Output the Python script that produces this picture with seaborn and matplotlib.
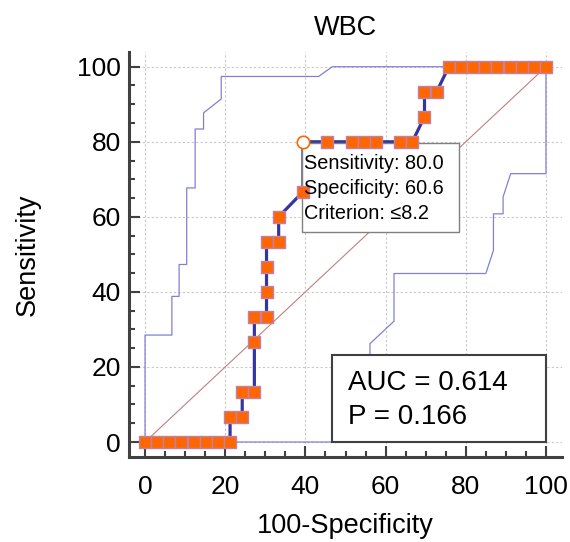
import matplotlib
matplotlib.use("Agg")
import matplotlib.pyplot as plt
import seaborn as sns
import pandas as pd
from matplotlib.patches import Rectangle
from matplotlib.ticker import MultipleLocator

# ROC curve points (100-Specificity, Sensitivity)
fpr = [0, 3.03, 6.06, 9.09, 12.12, 15.15, 18.18, 21.21,
       21.21, 24.24, 24.24, 27.27, 27.27, 27.27, 30.30, 30.30,
       30.30, 30.30, 33.33, 33.33, 39.39, 39.39, 45.45, 51.52,
       54.55, 57.58, 63.64, 66.67, 69.70, 69.70, 72.73, 75.76,
       78.79, 81.82, 84.85, 87.88, 90.91, 93.94, 96.97, 100]
tpr = [0, 0, 0, 0, 0, 0, 0, 0,
       6.67, 6.67, 13.33, 13.33, 26.67, 33.33, 33.33, 40.0,
       46.67, 53.33, 53.33, 60.0, 66.67, 80.0, 80.0, 80.0,
       80.0, 80.0, 80.0, 80.0, 86.67, 93.33, 93.33, 100,
       100, 100, 100, 100, 100, 100, 100, 100]

# confidence bounds
upper_x = [0, 0, 6.7, 6.7, 8.5, 8.5, 10.4, 10.4, 12.5, 12.5, 14.6, 14.6,
           19.0, 19.0, 43.3, 46.7, 100]
upper_y = [0, 28.5, 28.5, 38.8, 38.8, 47.3, 47.3, 67.7, 67.7, 83.4, 83.4,
           87.7, 91.4, 97.4, 97.4, 100, 100]
lower_x = [0, 56.1, 56.1, 62.1, 62.1, 85.0, 86.9, 86.9, 89.3, 89.3, 91.2,
           100, 100]
lower_y = [0, 0, 26.2, 32.2, 44.9, 44.9, 51.1, 60.8, 60.8, 65.3, 71.5,
           71.5, 100]

# optimal criterion
crit_x = 39.39
crit_y = 80.0
crit_text = ["Sensitivity: 80.0", "Specificity: 60.6", "Criterion: \u22648.2"]
auc_text = ["AUC = 0.614", "P = 0.166"]

roc = pd.DataFrame({"fpr": fpr, "tpr": tpr})

sns.set_style("white")
plt.rcParams["font.family"] = ["Liberation Sans", "DejaVu Sans"]
plt.rcParams["text.color"] = "black"
plt.rcParams["axes.labelcolor"] = "black"
plt.rcParams["xtick.labelcolor"] = "black"
plt.rcParams["ytick.labelcolor"] = "black"

fig = plt.figure(figsize=(5.70, 5.42), dpi=100)
ax = fig.add_axes([0.2263, 0.1568, 0.7597, 0.7478])

ax.plot([0, 100], [0, 100], color="#c08080", lw=0.8, zorder=2)
sns.lineplot(x=upper_x, y=upper_y, estimator=None, sort=False,
             color="#8080d4", lw=0.9, ax=ax, zorder=2)
sns.lineplot(x=lower_x, y=lower_y, estimator=None, sort=False,
             color="#8080d4", lw=0.9, ax=ax, zorder=2)
sns.lineplot(data=roc, x="fpr", y="tpr", estimator=None, sort=False,
             color="#3535a0", lw=2.3, ax=ax, zorder=3)

is_crit = (roc["fpr"] == crit_x) & (roc["tpr"] == crit_y)
sns.scatterplot(data=roc[~is_crit], x="fpr", y="tpr", marker="s", s=85,
                color="#ff6600", edgecolor="#c080a8", linewidth=1.0,
                ax=ax, zorder=5)
sns.scatterplot(x=[crit_x], y=[crit_y], marker="o", s=80, color="white",
                edgecolor="#ff6600", linewidth=1.2, ax=ax, zorder=7)

# criterion box
ax.add_patch(Rectangle((39.2, 56.0), 39.1, 23.6, facecolor="white",
                       edgecolor="#808080", lw=1.0, zorder=4))
for i, t in enumerate(crit_text):
    ax.text(39.6, 74.1 - i * 6.65, t, fontsize=14.3, va="center",
            ha="left", zorder=6)

# AUC box
ax.add_patch(Rectangle((46.7, 0.0), 53.3, 23.3, facecolor="white",
                       edgecolor="#404040", lw=1.5, zorder=6))
for i, t in enumerate(auc_text):
    ax.text(50.6, 15.6 - i * 8.9, t, fontsize=20, va="center",
            ha="left", zorder=7)

ax.set_xlim(-4, 104)
ax.set_ylim(-4, 104)
ax.xaxis.set_major_locator(MultipleLocator(20))
ax.xaxis.set_minor_locator(MultipleLocator(5))
ax.yaxis.set_major_locator(MultipleLocator(20))
ax.yaxis.set_minor_locator(MultipleLocator(5))
ax.grid(True, which="major", color="#c8c8c8", linestyle=(0, (2, 2)), lw=0.8)

sns.despine(ax=ax)
for side in ["left", "bottom"]:
    ax.spines[side].set_color("#404040")
    ax.spines[side].set_linewidth(2.2)
ax.tick_params(which="both", direction="in", color="#404040", width=1.5,
               left=True, bottom=True)
ax.tick_params(which="major", length=8, labelsize=19)
ax.tick_params(which="minor", length=4.5)
ax.tick_params(axis="x", which="major", pad=13)
ax.tick_params(axis="y", which="major", pad=6)

ax.set_title("WBC", fontsize=19.5, pad=12)
ax.set_xlabel("100-Specificity", fontsize=19.5, labelpad=10)
ax.set_ylabel("Sensitivity", fontsize=19.5, labelpad=26)

fig.savefig("out.png", dpi=100)
